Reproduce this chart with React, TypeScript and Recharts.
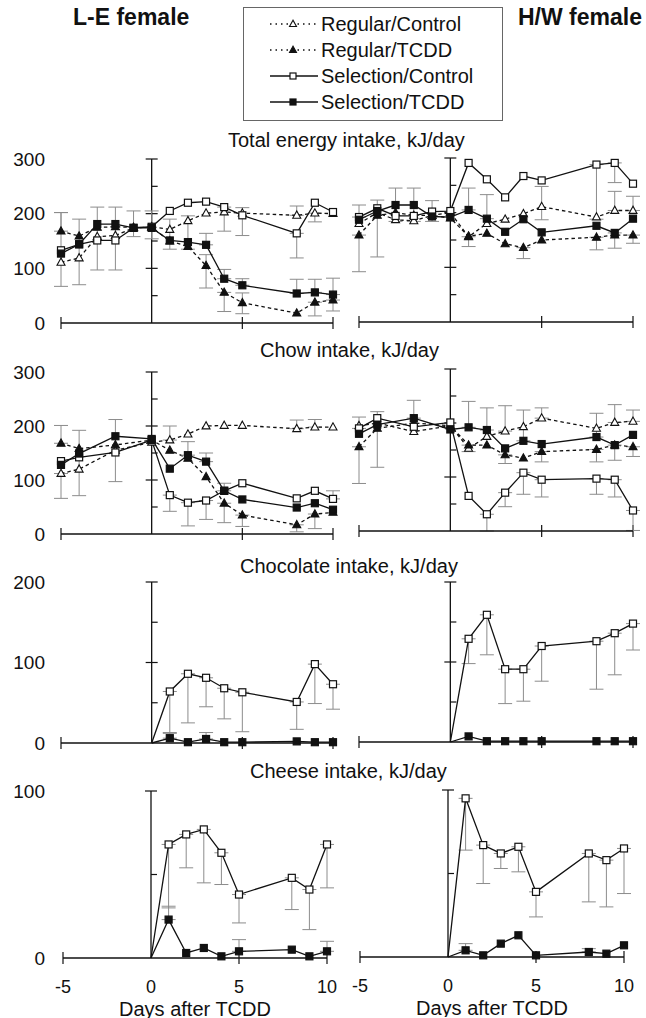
import { LineChart, Line, XAxis, YAxis, ReferenceLine, ErrorBar } from 'recharts'

const FONT = '"Liberation Sans", Arial, Helvetica, sans-serif'
const INK = '#111'
const BAR = '#8c8c8c'

type Err = [number, number] | null

// day grids
const totalDays = [-5, -4, -3, -2, -1, 0, 1, 2, 3, 4, 5, 8, 9, 10]
const chowDays = [-5, -4, -2, 0, 1, 2, 3, 4, 5, 8, 9, 10]
const treatDays = [0, 1, 2, 3, 4, 5, 8, 9, 10]
const xTicks = [-5, 0, 5, 10]

// ---- L-E female, total energy intake ----
const leTotalRegCtrl = [111, 119, 158, 160, 174, 176, 171, 187, 201, 203, 201, 197, 201, 200]
const leTotalRegTcdd = [168, 159, 175, 176, 175, 175, 150, 140, 105, 56, 37, 18, 38, 42]
const leTotalSelCtrl = [133, 144, 151, 151, 174, 176, 205, 220, 222, 212, 197, 164, 220, 203]
const leTotalSelTcdd = [127, 144, 181, 181, 174, 174, 151, 148, 143, 81, 69, 54, 56, 52]
const leTotalRegCtrlErr: Err[] = [null, [49, 71], null, null, null, null, [36, 19], null, null, null, null, [0, 17], [16, 0], null]
const leTotalRegTcddErr: Err[] = [[0, 34], null, null, null, null, null, null, null, [41, 20], [35, 0], [20, 18], null, [25, 0], [20, 0]]
const leTotalSelCtrlErr: Err[] = [[66, 69], null, [54, 61], [54, 61], null, [22, 29], null, null, null, [44, 0], [37, 14], [45, 0], null, null]
const leTotalSelTcddErr: Err[] = [null, null, null, null, [16, 31], null, null, [13, 48], [0, 21], [0, 17], [0, 12], [0, 26], [0, 24], [0, 30]]

// ---- H/W female, total energy intake ----
const hwTotalRegCtrl = [180, 200, 187, 185, 195, 200, 156, 180, 188, 198, 211, 192, 204, 204]
const hwTotalRegTcdd = [159, 195, 200, 195, 195, 190, 157, 162, 143, 136, 150, 155, 159, 159]
const hwTotalSelCtrl = [192, 208, 194, 194, 202, 203, 291, 261, 228, 267, 259, 288, 291, 253]
const hwTotalSelTcdd = [187, 203, 214, 214, 193, 192, 205, 189, 165, 188, 164, 176, 163, 189]
const hwTotalRegCtrlErr: Err[] = [null, null, null, null, null, null, [18, 0], null, null, null, [24, 37], null, [0, 35], [0, 26]]
const hwTotalRegTcddErr: Err[] = [[67, 0], null, null, null, null, null, null, null, null, [20, 0], null, [23, 0], null, [15, 0]]
const hwTotalSelCtrlErr: Err[] = [[0, 22], null, null, null, [18, 20], null, null, null, null, null, null, [100, 0], [36, 0], null]
const hwTotalSelTcddErr: Err[] = [null, [84, 20], [30, 31], [30, 31], null, null, [0, 40], [0, 44], null, null, null, null, [28, 0], null]

// ---- L-E female, chow intake ----
const leChowRegCtrl = [112, 120, 155, 170, 174, 185, 200, 201, 201, 195, 198, 198]
const leChowRegTcdd = [168, 158, 165, 174, 155, 140, 106, 57, 35, 17, 37, 40]
const leChowSelCtrl = [135, 142, 151, 174, 72, 58, 62, 80, 94, 66, 80, 65]
const leChowSelTcdd = [128, 149, 181, 176, 121, 146, 134, 80, 64, 49, 57, 45]
const leChowRegCtrlErr: Err[] = [[46, 0], null, null, null, [0, 26], null, null, null, null, [0, 16], [0, 14], null]
const leChowRegTcddErr: Err[] = [[0, 33], null, null, null, null, null, null, [36, 0], [21, 0], [13, 0], [27, 0], null]
const leChowSelCtrlErr: Err[] = [null, [71, 50], [54, 61], null, [30, 0], [43, 0], [35, 0], null, null, null, null, [0, 15]]
const leChowSelTcddErr: Err[] = [null, null, null, null, null, [0, 25], [0, 16], [0, 14], null, null, null, null]

// ---- H/W female, chow intake ----
const hwChowRegCtrl = [195, 200, 184, 195, 153, 175, 185, 193, 209, 190, 201, 203]
const hwChowRegTcdd = [156, 190, 200, 195, 159, 159, 141, 135, 147, 151, 159, 156]
const hwChowSelCtrl = [190, 209, 193, 201, 65, 31, 71, 108, 95, 97, 95, 38]
const hwChowSelTcdd = [180, 197, 209, 188, 192, 187, 153, 167, 161, 174, 159, 178]
const hwChowRegCtrlErr: Err[] = [null, null, null, null, null, null, [0, 47], null, [0, 19], null, [0, 33], [0, 21]]
const hwChowRegTcddErr: Err[] = [[68, 0], null, null, null, [12, 0], null, [16, 0], null, [19, 0], [23, 0], null, [18, 0]]
const hwChowSelCtrlErr: Err[] = [[0, 21], null, null, null, null, [31, 0], [26, 0], [40, 0], [32, 0], [29, 0], [32, 0], [37, 0]]
const hwChowSelTcddErr: Err[] = [null, [79, 24], [0, 33], null, [0, 48], [0, 41], null, [0, 57], null, [0, 44], [28, 0], null]

// ---- chocolate intake ----
const leChocSelCtrl = [0, 64, 86, 81, 68, 63, 51, 98, 73]
const leChocSelTcdd = [0, 6, 1, 5, 1, 1, 2, 1, 1]
const leChocSelCtrlErr: Err[] = [null, [52, 0], [61, 0], [36, 0], [38, 0], [49, 0], [34, 0], [49, 0], [31, 0]]
const leChocSelTcddErr: Err[] = [null, [0, 7], null, [0, 8], null, null, null, null, null]
const hwChocSelCtrl = [0, 129, 159, 91, 91, 120, 126, 136, 148]
const hwChocSelTcdd = [0, 7, 1, 1, 1, 1, 1, 1, 1]
const hwChocSelCtrlErr: Err[] = [null, [31, 0], [50, 0], [43, 0], [40, 0], [44, 0], [60, 0], [52, 0], [33, 0]]

// ---- cheese intake ----
const leCheeseSelCtrl = [0, 68, 74, 77, 63, 38, 48, 41, 68]
const leCheeseSelTcdd = [0, 23, 3, 6, 1, 4, 5, 1, 4]
const leCheeseSelCtrlErr: Err[] = [null, [38, 0], [20, 0], [32, 0], [19, 0], [17, 0], [19, 0], [24, 0], [26, 0]]
const leCheeseSelTcddErr: Err[] = [null, [0, 8], null, null, null, [0, 7], null, null, [0, 6]]
const hwCheeseSelCtrl = [0, 95, 67, 62, 66, 39, 62, 58, 65]
const hwCheeseSelTcdd = [0, 4, 1, 8, 13, 1, 3, 2, 7]
const hwCheeseSelCtrlErr: Err[] = [null, [31, 0], [23, 0], [9, 0], [15, 0], [15, 0], [29, 0], [28, 0], [27, 0]]
const hwCheeseSelTcddErr: Err[] = [null, [0, 4], null, null, null, null, [0, 2], null, null]

// axis labels / tick marks on the day-0 line
const yTicks300 = [0, 100, 200, 300]
const yTicks200 = [0, 100, 200]
const yTicks100 = [0, 100]
const marks300 = [50, 100, 150, 200, 250, 300]
const marks200 = [50, 100, 150, 200]
const marks100 = [50, 100]

const legendNames = ['Regular/Control', 'Regular/TCDD', 'Selection/Control', 'Selection/TCDD']

type Kind = 'regCtrl' | 'regTcdd' | 'selCtrl' | 'selTcdd'

const kindStyle: Record<Kind, { dash?: string; open: boolean; tri: boolean }> = {
  regCtrl: { dash: '3.5 3', open: true, tri: true },
  regTcdd: { dash: '3.5 3', open: false, tri: true },
  selCtrl: { open: true, tri: false },
  selTcdd: { open: false, tri: false },
}

function Marker({ cx, cy, kind, s }: { cx: number; cy: number; kind: Kind; s: number }) {
  const st = kindStyle[kind]
  const fill = st.open ? '#fff' : INK
  if (st.tri) {
    const h = s * 0.9
    return (
      <polygon
        points={`${cx},${cy - h * 0.6} ${cx - s / 2},${cy + h * 0.4} ${cx + s / 2},${cy + h * 0.4}`}
        fill={fill}
        stroke={INK}
        strokeWidth={1.1}
      />
    )
  }
  return <rect x={cx - s / 2} y={cy - s / 2} width={s} height={s} fill={fill} stroke={INK} strokeWidth={1.2} />
}

interface Series {
  kind: Kind
  values: number[]
  errors?: Err[]
}

interface PanelDef {
  side: 'L' | 'R'
  x0: number
  x1: number
  y0: number
  y1: number
  max: number
  yTicks: number[]
  marks: number[]
  days: number[]
  series: Series[]
  bottom?: boolean
  fromOrigin?: boolean
}

const panels: PanelDef[] = [
  {
    side: 'L', x0: 61, x1: 333, y0: 159, y1: 323, max: 300, yTicks: yTicks300, marks: marks300, days: totalDays,
    series: [
      { kind: 'regCtrl', values: leTotalRegCtrl, errors: leTotalRegCtrlErr },
      { kind: 'regTcdd', values: leTotalRegTcdd, errors: leTotalRegTcddErr },
      { kind: 'selCtrl', values: leTotalSelCtrl, errors: leTotalSelCtrlErr },
      { kind: 'selTcdd', values: leTotalSelTcdd, errors: leTotalSelTcddErr },
    ],
  },
  {
    side: 'R', x0: 359, x1: 633, y0: 158, y1: 322, max: 300, yTicks: yTicks300, marks: marks300, days: totalDays,
    series: [
      { kind: 'regCtrl', values: hwTotalRegCtrl, errors: hwTotalRegCtrlErr },
      { kind: 'regTcdd', values: hwTotalRegTcdd, errors: hwTotalRegTcddErr },
      { kind: 'selCtrl', values: hwTotalSelCtrl, errors: hwTotalSelCtrlErr },
      { kind: 'selTcdd', values: hwTotalSelTcdd, errors: hwTotalSelTcddErr },
    ],
  },
  {
    side: 'L', x0: 61, x1: 333, y0: 372, y1: 534, max: 300, yTicks: yTicks300, marks: marks300, days: chowDays,
    series: [
      { kind: 'regCtrl', values: leChowRegCtrl, errors: leChowRegCtrlErr },
      { kind: 'regTcdd', values: leChowRegTcdd, errors: leChowRegTcddErr },
      { kind: 'selCtrl', values: leChowSelCtrl, errors: leChowSelCtrlErr },
      { kind: 'selTcdd', values: leChowSelTcdd, errors: leChowSelTcddErr },
    ],
  },
  {
    side: 'R', x0: 359, x1: 633, y0: 369, y1: 531, max: 300, yTicks: yTicks300, marks: marks300, days: chowDays,
    series: [
      { kind: 'regCtrl', values: hwChowRegCtrl, errors: hwChowRegCtrlErr },
      { kind: 'regTcdd', values: hwChowRegTcdd, errors: hwChowRegTcddErr },
      { kind: 'selCtrl', values: hwChowSelCtrl, errors: hwChowSelCtrlErr },
      { kind: 'selTcdd', values: hwChowSelTcdd, errors: hwChowSelTcddErr },
    ],
  },
  {
    side: 'L', x0: 61, x1: 333, y0: 582, y1: 743, max: 200, yTicks: yTicks200, marks: marks200, days: treatDays, fromOrigin: true,
    series: [
      { kind: 'selCtrl', values: leChocSelCtrl, errors: leChocSelCtrlErr },
      { kind: 'selTcdd', values: leChocSelTcdd, errors: leChocSelTcddErr },
    ],
  },
  {
    side: 'R', x0: 359, x1: 633, y0: 582, y1: 742, max: 200, yTicks: yTicks200, marks: marks200, days: treatDays, fromOrigin: true,
    series: [
      { kind: 'selCtrl', values: hwChocSelCtrl, errors: hwChocSelCtrlErr },
      { kind: 'selTcdd', values: hwChocSelTcdd },
    ],
  },
  {
    side: 'L', x0: 63, x1: 327, y0: 791, y1: 958, max: 100, yTicks: yTicks100, marks: marks100, days: treatDays, fromOrigin: true, bottom: true,
    series: [
      { kind: 'selCtrl', values: leCheeseSelCtrl, errors: leCheeseSelCtrlErr },
      { kind: 'selTcdd', values: leCheeseSelTcdd, errors: leCheeseSelTcddErr },
    ],
  },
  {
    side: 'R', x0: 360, x1: 624, y0: 790, y1: 957, max: 100, yTicks: yTicks100, marks: marks100, days: treatDays, fromOrigin: true, bottom: true,
    series: [
      { kind: 'selCtrl', values: hwCheeseSelCtrl, errors: hwCheeseSelCtrlErr },
      { kind: 'selTcdd', values: hwCheeseSelTcdd, errors: hwCheeseSelTcddErr },
    ],
  },
]

const titles = [
  { text: 'Total energy intake, kJ/day', left: 228, cy: 140 },
  { text: 'Chow intake, kJ/day', left: 260, cy: 350 },
  { text: 'Chocolate intake, kJ/day', left: 240, cy: 566 },
  { text: 'Cheese intake, kJ/day', left: 250, cy: 771 },
]

function Panel({ p }: { p: PanelDef }) {
  const chartLeft = p.side === 'L' ? 0 : 340
  const chartWidth = p.side === 'L' ? 345 : 306
  const mTop = 12
  const xAxisH = p.bottom ? 60 : 14
  const plotH = p.y1 - p.y0
  const height = mTop + plotH + xAxisH
  const pxDay = (p.x1 - p.x0) / 15
  const dx = 6 / pxDay
  const dy = (6 * p.max) / plotH
  const margin = {
    top: mTop,
    right: chartLeft + chartWidth - p.x1,
    bottom: 0,
    left: p.side === 'L' ? 0 : p.x0 - chartLeft,
  }

  return (
    <div style={{ position: 'absolute', left: chartLeft, top: p.y0 - mTop }}>
      <LineChart width={chartWidth} height={height} margin={margin}>
        <XAxis
          type="number"
          dataKey="day"
          domain={[-5, 10]}
          ticks={xTicks}
          interval={0}
          height={xAxisH}
          axisLine={{ stroke: INK, strokeWidth: 1.3 }}
          tickLine={false}
          tickSize={0}
          tickMargin={22}
          tick={p.bottom ? { fontSize: 18, fill: INK } : false}
          label={
            p.bottom
              ? { value: 'Days after TCDD', position: 'insideBottom', offset: 2.5, fontSize: 20, fill: INK }
              : undefined
          }
        />
        <YAxis
          type="number"
          domain={[0, p.max]}
          ticks={p.yTicks}
          interval={0}
          hide={p.side === 'R'}
          width={p.x0}
          axisLine={false}
          tickLine={false}
          tickSize={0}
          tickMargin={p.x0 - 45}
          tick={{ fontSize: 19, fill: INK }}
        />
        <ReferenceLine x={0} stroke={INK} strokeWidth={1.3} ifOverflow="visible" />
        {p.marks.map((m) => (
          <ReferenceLine
            key={`m${m}`}
            segment={[
              { x: m % 100 === 0 ? -dx : 0, y: m },
              { x: dx, y: m },
            ]}
            stroke={INK}
            strokeWidth={1.2}
            ifOverflow="visible"
          />
        ))}
        {[-5, 5, 10].map((t) => (
          <ReferenceLine
            key={`t${t}`}
            segment={[
              { x: t, y: -dy },
              { x: t, y: dy },
            ]}
            stroke={INK}
            strokeWidth={1.2}
            ifOverflow="visible"
          />
        ))}
        {p.series.map((s) => {
          const data = p.days.map((d, i) => ({ day: d, v: s.values[i], e: s.errors ? s.errors[i] : null }))
          const st = kindStyle[s.kind]
          return (
            <Line
              key={s.kind}
              data={data}
              dataKey="v"
              stroke={INK}
              strokeWidth={1.3}
              strokeDasharray={st.dash}
              isAnimationActive={false}
              activeDot={false}
              dot={(props: any) => {
                const { cx, cy, index } = props
                if (cx == null || cy == null || (p.fromOrigin && index === 0)) return <g key={`d${index}`} />
                return (
                  <g key={`d${index}`}>
                    <Marker cx={cx} cy={cy} kind={s.kind} s={st.tri ? 8 : 7} />
                  </g>
                )
              }}
            >
              {s.errors && <ErrorBar dataKey="e" direction="y" width={7} stroke={BAR} strokeWidth={1} />}
            </Line>
          )
        })}
      </LineChart>
    </div>
  )
}

function LegendIcon({ kind }: { kind: Kind }) {
  const st = kindStyle[kind]
  return (
    <svg width={48} height={20} style={{ display: 'block' }}>
      <line
        x1={0}
        x2={48}
        y1={10}
        y2={10}
        stroke={INK}
        strokeWidth={st.dash ? 1.5 : 1.3}
        strokeDasharray={st.dash ? '1.5 4' : undefined}
      />
      <Marker cx={23} cy={10} kind={kind} s={st.tri ? 7 : 6} />
    </svg>
  )
}

const legendKinds: Kind[] = ['regCtrl', 'regTcdd', 'selCtrl', 'selTcdd']

export default function App() {
  return (
    <div
      style={{
        position: 'absolute',
        left: 0,
        top: 0,
        width: 646,
        height: 1018,
        background: '#fff',
        fontFamily: FONT,
        color: INK,
        overflow: 'hidden',
      }}
    >
      <div style={{ position: 'absolute', left: 73, top: 6, fontSize: 23, fontWeight: 700, lineHeight: 1 }}>
        L-E female
      </div>
      <div style={{ position: 'absolute', left: 518, top: 6, fontSize: 23, fontWeight: 700, lineHeight: 1 }}>
        H/W female
      </div>

      <div
        style={{
          position: 'absolute',
          left: 243,
          top: 7,
          width: 260,
          height: 114,
          border: '1px solid #666',
          boxSizing: 'border-box',
        }}
      >
        {legendKinds.map((k, i) => (
          <div
            key={k}
            style={{
              position: 'absolute',
              left: 26,
              top: 6 + i * 26,
              height: 20,
              display: 'flex',
              alignItems: 'center',
              whiteSpace: 'nowrap',
            }}
          >
            <LegendIcon kind={k} />
            <span style={{ marginLeft: 3, fontSize: 20, lineHeight: '20px' }}>{legendNames[i]}</span>
          </div>
        ))}
      </div>

      {titles.map((t) => (
        <div
          key={t.text}
          style={{ position: 'absolute', left: t.left, top: t.cy - 10, fontSize: 20, lineHeight: 1, whiteSpace: 'nowrap' }}
        >
          {t.text}
        </div>
      ))}

      {panels.map((p, i) => (
        <Panel key={i} p={p} />
      ))}
    </div>
  )
}
